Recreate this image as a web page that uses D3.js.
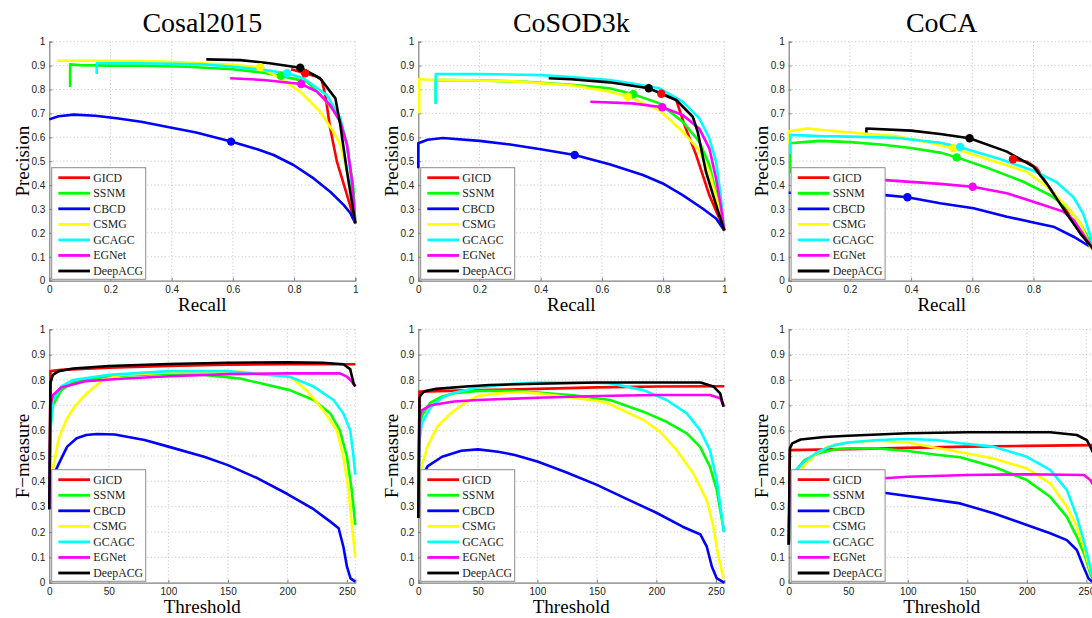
<!DOCTYPE html>
<html>
<head>
<meta charset="utf-8">
<script src="https://cdn.jsdelivr.net/npm/d3@7/dist/d3.min.js"></script>
<style>
  body { margin: 0; background: #fff; }
  .tick text { font-family: "Liberation Sans", Arial, sans-serif; font-size: 10px; fill: #222; }
  .grid line { stroke: #b4b4b4; stroke-width: 0.8; stroke-dasharray: 1,2.5; }
</style>
</head>
<body>
<div class="chart"></div>
<script>
// PR curves and F-measure curves for co-saliency methods on three datasets

var methods = ["GICD", "SSNM", "CBCD", "CSMG", "GCAGC", "EGNet", "DeepACG"];
var colors = ["#ff0000", "#00ff00", "#0000ff", "#ffff00", "#00ffff", "#ff00ff", "#000000"];
var datasets = ["Cosal2015", "CoSOD3k", "CoCA"];

var recallTicks = [0, 0.2, 0.4, 0.6, 0.8, 1];
var scoreTicks = [0, 0.1, 0.2, 0.3, 0.4, 0.5, 0.6, 0.7, 0.8, 0.9, 1];
var thresholdTicks = [0, 50, 100, 150, 200, 250];

// ---- Precision / Recall, Cosal2015 (order follows methods) ----
var cosalPR = [
  [[0.79,0.885],[0.836,0.868],[0.875,0.853],[0.89,0.84],[0.902,0.777],[0.918,0.638],[0.94,0.498],[0.973,0.358],[1,0.24]],
  [[0.068,0.81],[0.068,0.905],[0.1,0.902],[0.2,0.9],[0.3,0.9],[0.45,0.895],[0.6,0.885],[0.7,0.87],[0.757,0.857],[0.842,0.833],[0.896,0.763],[0.93,0.71],[0.951,0.666],[0.973,0.568],[0.994,0.387],[1,0.24]],
  [[0,0.675],[0.03,0.688],[0.08,0.695],[0.15,0.69],[0.22,0.68],[0.3,0.665],[0.4,0.64],[0.48,0.62],[0.594,0.582],[0.68,0.55],[0.733,0.526],[0.798,0.484],[0.864,0.428],[0.918,0.372],[0.962,0.317],[0.984,0.282],[1,0.24]],
  [[0.024,0.92],[0.2,0.92],[0.35,0.918],[0.5,0.91],[0.6,0.903],[0.689,0.892],[0.755,0.847],[0.82,0.791],[0.885,0.707],[0.929,0.623],[0.951,0.568],[0.984,0.4],[1,0.24]],
  [[0.155,0.865],[0.155,0.91],[0.3,0.91],[0.5,0.905],[0.6,0.895],[0.7,0.882],[0.777,0.868],[0.83,0.847],[0.907,0.777],[0.951,0.68],[0.973,0.568],[0.989,0.4],[1,0.24]],
  [[0.591,0.847],[0.7,0.84],[0.823,0.823],[0.875,0.791],[0.918,0.735],[0.951,0.665],[0.973,0.568],[0.989,0.42],[1,0.24]],
  [[0.513,0.926],[0.624,0.923],[0.72,0.91],[0.82,0.891],[0.885,0.847],[0.935,0.763],[0.951,0.651],[0.973,0.456],[1,0.24]]
];
var cosalDots = [[0.836,0.868],[0.757,0.857],[0.594,0.582],[0.689,0.893],[0.777,0.868],[0.823,0.823],[0.82,0.891]];

// ---- Precision / Recall, CoSOD3k ----
var cosodPR = [
  [[0.785,0.79],[0.794,0.782],[0.843,0.756],[0.87,0.651],[0.908,0.526],[0.951,0.358],[0.984,0.26],[1,0.21]],
  [[0.057,0.74],[0.057,0.84],[0.2,0.838],[0.35,0.832],[0.5,0.82],[0.625,0.805],[0.702,0.78],[0.788,0.742],[0.864,0.665],[0.918,0.582],[0.951,0.484],[0.978,0.344],[1,0.21]],
  [[0,0.47],[0,0.575],[0.03,0.59],[0.08,0.597],[0.2,0.585],[0.3,0.57],[0.4,0.55],[0.511,0.526],[0.625,0.487],[0.734,0.442],[0.799,0.407],[0.864,0.358],[0.929,0.302],[0.973,0.26],[1,0.21]],
  [[0.003,0.7],[0.003,0.845],[0.02,0.842],[0.3,0.835],[0.5,0.818],[0.625,0.791],[0.685,0.77],[0.788,0.714],[0.864,0.623],[0.913,0.554],[0.951,0.456],[0.978,0.33],[1,0.21]],
  [[0.057,0.74],[0.057,0.865],[0.2,0.865],[0.4,0.86],[0.5,0.852],[0.625,0.84],[0.7,0.825],[0.788,0.805],[0.864,0.749],[0.918,0.68],[0.951,0.596],[0.973,0.498],[0.988,0.358],[1,0.21]],
  [[0.562,0.749],[0.7,0.742],[0.797,0.726],[0.864,0.693],[0.918,0.637],[0.951,0.554],[0.973,0.428],[0.988,0.317],[1,0.21]],
  [[0.426,0.847],[0.5,0.843],[0.625,0.83],[0.753,0.805],[0.843,0.756],[0.897,0.686],[0.913,0.623],[0.94,0.456],[0.973,0.317],[1,0.21]]
];
var cosodDots = [[0.794,0.782],[0.702,0.78],[0.511,0.526],[0.685,0.77],null,[0.797,0.726],[0.753,0.805]];

// ---- Precision / Recall, CoCA ----
var cocaPR = [
  [[0.72,0.51],[0.733,0.508],[0.778,0.498],[0.811,0.47],[0.844,0.405],[0.909,0.29],[0.953,0.198],[1,0.125]],
  [[0.005,0.45],[0.005,0.575],[0.05,0.58],[0.1,0.585],[0.2,0.58],[0.3,0.57],[0.4,0.555],[0.495,0.536],[0.549,0.516],[0.658,0.468],[0.767,0.414],[0.854,0.358],[0.909,0.31],[0.953,0.24],[1,0.125]],
  [[0,0.368],[0.1,0.368],[0.2,0.365],[0.314,0.358],[0.388,0.349],[0.495,0.324],[0.604,0.303],[0.713,0.268],[0.811,0.24],[0.865,0.226],[0.931,0.184],[0.985,0.142],[1,0.125]],
  [[0,0.57],[0,0.625],[0.06,0.637],[0.2,0.62],[0.35,0.605],[0.45,0.58],[0.537,0.554],[0.658,0.505],[0.778,0.456],[0.844,0.393],[0.909,0.31],[0.953,0.24],[0.985,0.142],[1,0.125]],
  [[0.005,0.53],[0.005,0.61],[0.1,0.605],[0.2,0.603],[0.35,0.598],[0.495,0.577],[0.56,0.558],[0.69,0.509],[0.8,0.46],[0.876,0.412],[0.931,0.349],[0.963,0.279],[0.98,0.21],[1,0.125]],
  [[0.25,0.425],[0.314,0.421],[0.495,0.405],[0.601,0.393],[0.713,0.366],[0.822,0.321],[0.898,0.289],[0.931,0.254],[0.975,0.17],[1,0.125]],
  [[0.254,0.62],[0.254,0.637],[0.4,0.628],[0.495,0.614],[0.591,0.596],[0.713,0.54],[0.8,0.477],[0.844,0.405],[0.909,0.279],[0.953,0.198],[1,0.125]]
];
var cocaDots = [[0.733,0.508],[0.549,0.516],[0.388,0.349],[0.537,0.554],[0.56,0.56],[0.601,0.393],[0.591,0.596]];

// ---- F-measure / Threshold, Cosal2015 ----
var cosalF = [
  [[0,0.29],[1,0.835],[10,0.84],[50,0.848],[100,0.855],[150,0.86],[200,0.862],[257,0.862]],
  [[0,0.29],[1,0.62],[3,0.7],[10,0.76],[20,0.79],[50,0.815],[100,0.825],[130,0.82],[160,0.806],[202,0.76],[222,0.721],[236,0.668],[244,0.602],[250,0.497],[254,0.366],[257,0.228]],
  [[0,0.29],[3,0.418],[8,0.47],[15,0.537],[23,0.57],[31,0.583],[40,0.587],[55,0.585],[80,0.563],[100,0.537],[130,0.497],[150,0.464],[175,0.412],[200,0.35],[222,0.29],[236,0.241],[243,0.215],[247,0.142],[250,0.063],[253,0.017],[257,0.004]],
  [[0,0.29],[3,0.45],[8,0.57],[15,0.65],[22,0.7],[32,0.75],[45,0.8],[60,0.82],[100,0.83],[160,0.833],[202,0.813],[216,0.76],[230,0.681],[241.5,0.602],[247,0.497],[251.3,0.366],[254,0.234],[257,0.103]],
  [[0,0.29],[1,0.6],[3,0.72],[10,0.775],[20,0.8],[50,0.82],[100,0.835],[150,0.835],[160,0.83],[202,0.813],[222,0.774],[238.7,0.721],[247,0.668],[252.7,0.602],[255.5,0.497],[257,0.426]],
  [[0,0.29],[1,0.7],[3,0.74],[10,0.77],[30,0.795],[60,0.805],[100,0.815],[150,0.823],[200,0.826],[244,0.826],[250,0.813],[253,0.8],[257,0.774]],
  [[0,0.29],[1,0.79],[3,0.82],[8,0.835],[20,0.845],[50,0.855],[100,0.863],[150,0.868],[200,0.87],[230,0.868],[247,0.862],[252.7,0.843],[255.5,0.787],[257,0.775]]
];

// ---- F-measure / Threshold, CoSOD3k ----
var cosodF = [
  [[0,0.255],[1,0.754],[50,0.76],[100,0.765],[150,0.771],[200,0.774],[257,0.775]],
  [[0,0.255],[1,0.6],[3,0.66],[10,0.71],[20,0.735],[30,0.748],[50,0.757],[80,0.757],[100,0.75],[130,0.74],[161,0.721],[189,0.675],[208.5,0.635],[225.5,0.589],[236.7,0.536],[245,0.457],[250.7,0.365],[255,0.247],[257,0.201]],
  [[0,0.255],[3,0.42],[8,0.46],[20,0.497],[36,0.521],[50,0.526],[67,0.517],[81,0.504],[100,0.478],[123,0.438],[150,0.386],[174,0.333],[200,0.276],[222,0.221],[237,0.19],[242.3,0.142],[246.6,0.063],[250.7,0.017],[257,0.0]],
  [[0,0.255],[2,0.445],[7.6,0.537],[16,0.616],[27,0.668],[38.6,0.708],[50,0.737],[67,0.747],[85,0.752],[100,0.747],[150,0.718],[161,0.705],[189,0.642],[203,0.596],[217,0.523],[231,0.431],[242.3,0.326],[247.9,0.221],[252,0.103],[256.3,0.017]],
  [[0,0.255],[1,0.56],[3,0.63],[10,0.69],[20,0.73],[30,0.75],[50,0.77],[80,0.785],[100,0.79],[130,0.79],[161,0.787],[189,0.76],[208.5,0.721],[225.5,0.668],[236.7,0.602],[245,0.523],[250.7,0.405],[255,0.26],[256.5,0.201]],
  [[0,0.255],[1,0.65],[3,0.68],[10,0.7],[30,0.715],[50,0.721],[100,0.73],[150,0.737],[200,0.741],[245,0.741],[253.5,0.728],[257,0.695]],
  [[0,0.255],[1,0.73],[2,0.74],[5,0.755],[15,0.765],[40,0.774],[60,0.78],[100,0.785],[150,0.79],[237,0.79],[248,0.774],[253.5,0.747],[256.3,0.695]]
];

// ---- F-measure / Threshold, CoCA ----
var cocaF = [
  [[0,0.15],[1,0.523],[50,0.527],[100,0.532],[150,0.537],[200,0.54],[257,0.543]],
  [[0,0.15],[2.2,0.34],[6.4,0.445],[13.3,0.484],[24.4,0.51],[38.3,0.526],[50,0.53],[74,0.53],[100,0.52],[124,0.505],[144,0.495],[172,0.458],[200,0.405],[219.6,0.339],[233.6,0.26],[242,0.181],[249,0.103],[253.2,0.037],[256,0.01]],
  [[0,0.15],[2,0.3],[5,0.35],[15,0.378],[30,0.382],[50,0.375],[80,0.355],[100,0.342],[144,0.313],[172,0.274],[200,0.228],[219.6,0.195],[233.6,0.168],[242,0.129],[247.6,0.063],[251.8,0.017],[255,0.004]],
  [[0,0.15],[2.2,0.287],[6.4,0.392],[12,0.458],[21.7,0.504],[32.8,0.537],[50,0.553],[74,0.56],[100,0.553],[144,0.515],[172,0.49],[200,0.451],[219.6,0.392],[233.6,0.3],[242,0.221],[247.6,0.142],[253.2,0.05],[256,0.02]],
  [[0,0.15],[2,0.38],[5,0.438],[13.3,0.478],[24.4,0.517],[38.3,0.543],[50,0.553],[74.4,0.563],[100,0.567],[124,0.563],[144,0.55],[172,0.537],[200,0.497],[219.6,0.445],[233.6,0.366],[242,0.261],[247.6,0.169],[251.8,0.09],[254.6,0.037],[256,0.02]],
  [[0,0.15],[1,0.39],[5,0.4],[30,0.405],[80,0.412],[100,0.418],[150,0.425],[200,0.428],[248,0.425],[253.2,0.405],[256,0.385]],
  [[0,0.15],[1,0.53],[3,0.55],[10,0.565],[30,0.575],[50,0.58],[100,0.59],[150,0.594],[219.6,0.594],[242,0.583],[250.4,0.563],[254.6,0.524],[257,0.5]]
];

var svgWidth = 1092;
var svgHeight = 618;

var panelLefts = [49.3, 418.3, 788.7];
var panelWidth = 306;
var rowTops = [41.7, 329.3];
var rowHeights = [239, 253.4];

var svg = d3.select(".chart")
  .append("svg")
  .attr("width", svgWidth)
  .attr("height", svgHeight)
  .style("display", "block");

svg.append("rect")
  .attr("width", svgWidth)
  .attr("height", svgHeight)
  .attr("fill", "#fff");

function fmtScore(d) {
  return (d === 0 || d === 1) ? String(d) : d.toFixed(1);
}

// draws one axes box with grid, curves, optional dots and legend
function drawPanel(left, top, height, xDomain, xTicks, xFormat, xLabel, yLabel, curves, dots, title) {
  var g = svg.append("g")
    .attr("transform", `translate(${left}, ${top})`);

  var x = d3.scaleLinear().domain(xDomain).range([0, panelWidth]);
  var y = d3.scaleLinear().domain([0, 1]).range([height, 0]);

  // dotted grid
  var grid = g.append("g").attr("class", "grid");
  grid.selectAll(".vx")
    .data(xTicks.filter(d => d > 0).concat(xDomain[1] > 1 ? [xDomain[1]] : []))
    .enter()
    .append("line")
    .attr("x1", d => x(d)).attr("x2", d => x(d))
    .attr("y1", 0).attr("y2", height);
  grid.selectAll(".hy")
    .data(scoreTicks.filter(d => d > 0))
    .enter()
    .append("line")
    .attr("x1", 0).attr("x2", panelWidth)
    .attr("y1", d => y(d)).attr("y2", d => y(d));

  // axes
  var bottomAxis = d3.axisBottom(x).tickValues(xTicks).tickFormat(xFormat).tickSize(-3).tickPadding(5);
  var leftAxis = d3.axisLeft(y).tickValues(scoreTicks).tickFormat(fmtScore).tickSize(-3).tickPadding(4);

  var xa = g.append("g")
    .attr("transform", `translate(0, ${height})`)
    .call(bottomAxis);
  var ya = g.append("g").call(leftAxis);
  [xa, ya].forEach(function(a) {
    a.select(".domain").attr("stroke", "#808080").attr("stroke-width", 1.2);
    a.selectAll(".tick line").attr("stroke", "#808080");
    a.selectAll("text").attr("font-family", null).attr("font-size", null);
  });

  // curves
  var line = d3.line()
    .x(d => x(d[0]))
    .y(d => y(d[1]));

  g.selectAll(".curve")
    .data(curves)
    .enter()
    .append("path")
    .attr("d", line)
    .attr("fill", "none")
    .attr("stroke", (d, i) => colors[i])
    .attr("stroke-width", 2.6)
    .attr("stroke-linejoin", "round");

  if (dots) {
    g.selectAll(".dot")
      .data(dots.map((d, i) => ({ p: d, i: i })).filter(d => d.p))
      .enter()
      .append("circle")
      .attr("cx", d => x(d.p[0]))
      .attr("cy", d => y(d.p[1]))
      .attr("r", 4.2)
      .attr("fill", d => colors[d.i]);
  }

  // legend in lower left
  var legH = 111.6;
  var leg = g.append("g")
    .attr("transform", `translate(2.4, ${height - 1.4 - legH})`);
  leg.append("rect")
    .attr("width", 94)
    .attr("height", legH)
    .attr("fill", "#fff")
    .attr("stroke", "#8c8c8c")
    .attr("stroke-width", 1);
  methods.forEach(function(m, i) {
    var ly = 10 + i * 15.55;
    leg.append("line")
      .attr("x1", 6.6).attr("x2", 38.3)
      .attr("y1", ly).attr("y2", ly)
      .attr("stroke", colors[i])
      .attr("stroke-width", 2.8);
    leg.append("text")
      .attr("x", 41.6)
      .attr("y", ly + 4)
      .attr("font-family", "'Liberation Serif', 'Times New Roman', serif")
      .attr("font-size", "11.8px")
      .attr("fill", "#222")
      .text(m);
  });

  // labels
  g.append("text")
    .attr("transform", `translate(-20.5, ${height / 2}) rotate(-90)`)
    .attr("text-anchor", "middle")
    .attr("font-family", "'Liberation Serif', 'Times New Roman', serif")
    .attr("font-size", "19px")
    .attr("fill", "#000")
    .text(yLabel);

  g.append("text")
    .attr("x", panelWidth / 2)
    .attr("y", height + 30)
    .attr("text-anchor", "middle")
    .attr("font-family", "'Liberation Serif', 'Times New Roman', serif")
    .attr("font-size", "19px")
    .attr("fill", "#000")
    .text(xLabel);

  if (title) {
    g.append("text")
      .attr("x", panelWidth / 2)
      .attr("y", 32 - top)
      .attr("text-anchor", "middle")
      .attr("font-family", "'Liberation Serif', 'Times New Roman', serif")
      .attr("font-size", "28px")
      .attr("fill", "#000")
      .text(title);
  }
}

var prCurves = [cosalPR, cosodPR, cocaPR];
var prDots = [cosalDots, cosodDots, cocaDots];
var fCurves = [cosalF, cosodF, cocaF];

datasets.forEach(function(name, k) {
  drawPanel(panelLefts[k], rowTops[0], rowHeights[0], [0, 1], recallTicks, fmtScore,
    "Recall", "Precision", prCurves[k], prDots[k], name);
  drawPanel(panelLefts[k], rowTops[1], rowHeights[1], [0, 257], thresholdTicks, d3.format("d"),
    "Threshold", "F\u2212measure", fCurves[k], null, null);
});
</script>
</body>
</html>
